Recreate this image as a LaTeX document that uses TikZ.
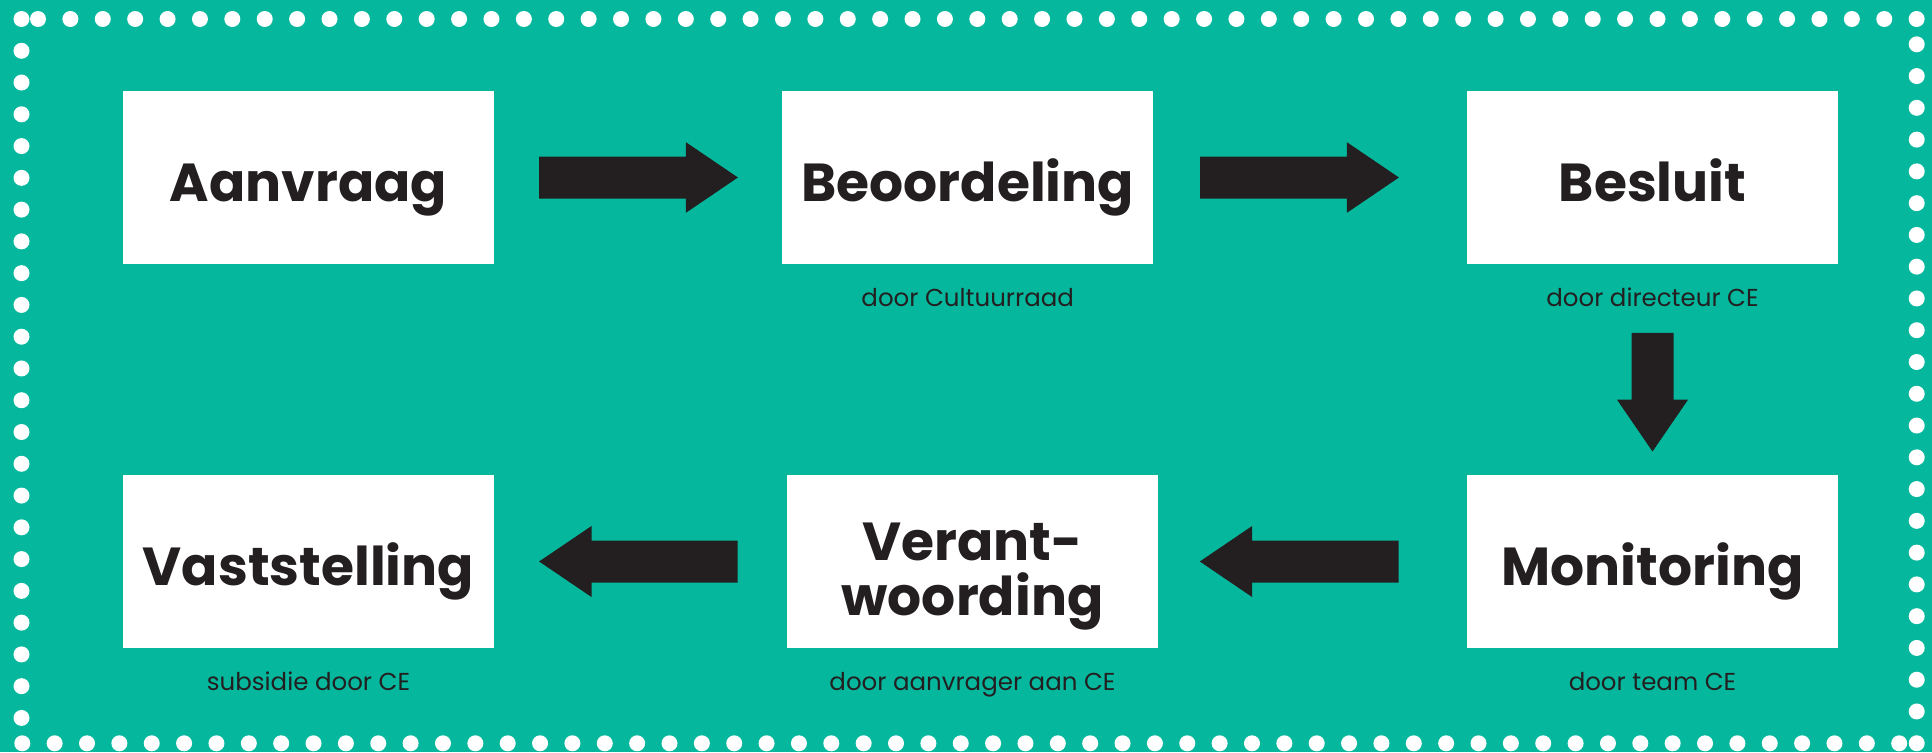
\documentclass[tikz,border=0pt]{standalone}
\usepackage{fontspec}
\setmainfont{Poppins}
\usetikzlibrary{calc}
\definecolor{bgteal}{HTML}{05B89D}
\definecolor{ink}{HTML}{231F20}
\begin{document}
\begin{tikzpicture}[x=1pt,y=-1pt,
  stepbox/.style={fill=white, minimum width=371pt, minimum height=173pt, inner sep=0pt},
  title/.style={font=\bfseries\fontsize{53.5}{55}\selectfont, text=ink, align=center, inner sep=0pt, anchor=base},
  note/.style={font=\fontsize{24.5}{28}\selectfont, text=ink, inner sep=0pt, anchor=base},
  arr/.style={fill=ink},
  dot/.style={fill=white}]
\useasboundingbox (0,0) rectangle (1932,752);
\fill[bgteal] (0,0) rectangle (1932,752);
% dotted frame
\foreach \k in {0,...,22} \fill[dot] (21.5,19+\k*31.77) circle[radius=8];
\foreach \k in {0,...,58} \fill[dot] (22.3+\k*32.36,743.3) circle[radius=8];
\foreach \k in {0,...,22} \fill[dot] (1916.7,44.3+\k*31.77) circle[radius=8];
\foreach \k in {0,...,58} \fill[dot] (38+\k*32.39,19) circle[radius=8];
% boxes
\node[stepbox] (aanvraag) at (308.5,177.5) {};
\node[stepbox] (beoordeling) at (967.7,177.5) {};
\node[stepbox] (besluit) at (1652.5,177.5) {};
\node[stepbox] (vaststelling) at (308.5,561.5) {};
\node[stepbox] (verantwoording) at (972.5,561.5) {};
\node[stepbox] (monitoring) at (1652.5,561.5) {};
% titles
\node[title] (t1) at ($(aanvraag.center)+(0,24)$) {Aanvraag};
\node[title] (t2) at ($(beoordeling.center)+(0,24)$) {Beoordeling};
\node[title] (t3) at ($(besluit.center)+(0,24)$) {Besluit};
\node[title] (t4) at ($(vaststelling.center)+(0,24)$) {Vaststelling};
\node[title] (t5) at ($(verantwoording.center)+(0,53.5)$) {Verant-\\woording};
\node[title] (t6) at ($(monitoring.center)+(0,24)$) {Monitoring};
% notes
\node[note] (n2) at ($(beoordeling.south)+(0,42.7)$) {door Cultuurraad};
\node[note] (n3) at ($(besluit.south)+(0,42.7)$) {door directeur CE};
\node[note] (n4) at ($(vaststelling.south)+(0,42.7)$) {subsidie door CE};
\node[note] (n5) at ($(verantwoording.south)+(0,42.7)$) {door aanvrager aan CE};
\node[note] (n6) at ($(monitoring.south)+(0,42.7)$) {door team CE};
% arrows
\fill[arr] ($(aanvraag.east)+(45,-21)$) -- ++(146.7,0) -- ++(0,-14.3) -- ++(52,35.3) -- ++(-52,35.3) -- ++(0,-14.3) -- ++(-146.7,0) -- cycle;
\fill[arr] ($(beoordeling.east)+(46.8,-21)$) -- ++(146.7,0) -- ++(0,-14.3) -- ++(52,35.3) -- ++(-52,35.3) -- ++(0,-14.3) -- ++(-146.7,0) -- cycle;
\fill[arr] ($(besluit.south)+(-21,68.7)$) -- ++(42,0) -- ++(0,66.6) -- ++(14.65,0) -- ++(-35.65,52) -- ++(-35.65,-52) -- ++(14.65,0) -- cycle;
\fill[arr] ($(monitoring.west)+(-68.3,-21)$) -- ++(-146.4,0) -- ++(0,-14.5) -- ++(-52.3,35.5) -- ++(52.3,35.5) -- ++(0,-14.5) -- ++(146.4,0) -- cycle;
\fill[arr] ($(verantwoording.west)+(-49.3,-21)$) -- ++(-146,0) -- ++(0,-14.5) -- ++(-52.4,35.5) -- ++(52.4,35.5) -- ++(0,-14.5) -- ++(146,0) -- cycle;
\end{tikzpicture}
\end{document}
